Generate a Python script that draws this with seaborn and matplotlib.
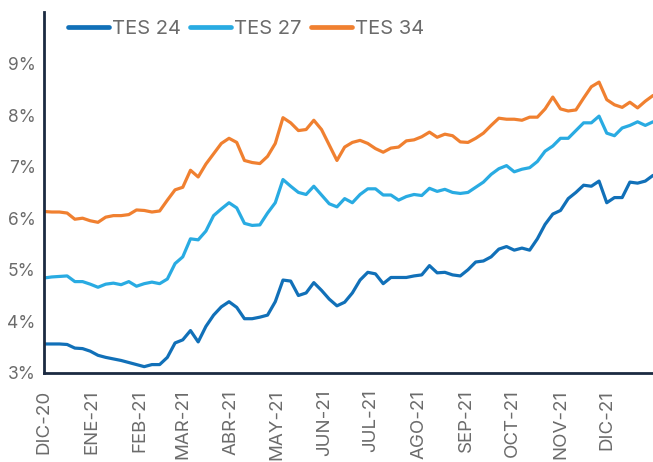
import numpy as np
import pandas as pd
import matplotlib
matplotlib.use("Agg")
import matplotlib.pyplot as plt
import seaborn as sns

# fechas cada 5 dias, dic-20 a dic-21
dates = pd.date_range("2020-12-01", "2021-12-31", freq="5D")

tes24 = [3.56, 3.56, 3.56, 3.55, 3.48, 3.47, 3.42, 3.34, 3.30, 3.27,
         3.24, 3.20, 3.16, 3.12, 3.16, 3.16, 3.30, 3.58, 3.64, 3.82,
         3.60, 3.90, 4.12, 4.28, 4.38, 4.27, 4.05, 4.05, 4.08, 4.12,
         4.38, 4.80, 4.78, 4.50, 4.55, 4.75, 4.60, 4.43, 4.30, 4.37,
         4.55, 4.80, 4.95, 4.92, 4.73, 4.85, 4.85, 4.85, 4.88, 4.90,
         5.08, 4.94, 4.95, 4.90, 4.88, 5.00, 5.15, 5.17, 5.25, 5.40,
         5.45, 5.38, 5.42, 5.38, 5.60, 5.88, 6.08, 6.15, 6.38, 6.50,
         6.64, 6.62, 6.72, 6.30, 6.40, 6.40, 6.70, 6.68, 6.72, 6.83]

tes27 = [4.84, 4.86, 4.87, 4.88, 4.77, 4.77, 4.72, 4.66, 4.72, 4.74,
         4.71, 4.77, 4.68, 4.73, 4.76, 4.73, 4.82, 5.12, 5.25, 5.60,
         5.58, 5.75, 6.05, 6.18, 6.30, 6.20, 5.90, 5.86, 5.87, 6.10,
         6.30, 6.75, 6.62, 6.50, 6.46, 6.62, 6.45, 6.28, 6.22, 6.38,
         6.30, 6.46, 6.57, 6.57, 6.45, 6.45, 6.35, 6.42, 6.46, 6.44,
         6.58, 6.52, 6.56, 6.50, 6.48, 6.50, 6.60, 6.70, 6.85, 6.96,
         7.02, 6.90, 6.95, 6.98, 7.10, 7.30, 7.40, 7.55, 7.55, 7.70,
         7.85, 7.85, 7.98, 7.65, 7.60, 7.75, 7.80, 7.87, 7.80, 7.87]

tes34 = [6.13, 6.12, 6.12, 6.10, 5.98, 6.00, 5.95, 5.92, 6.02, 6.05,
         6.05, 6.07, 6.16, 6.15, 6.12, 6.14, 6.35, 6.55, 6.60, 6.93,
         6.80, 7.05, 7.25, 7.45, 7.55, 7.47, 7.12, 7.08, 7.06, 7.20,
         7.45, 7.95, 7.85, 7.70, 7.72, 7.90, 7.72, 7.42, 7.12, 7.38,
         7.47, 7.51, 7.45, 7.35, 7.28, 7.36, 7.38, 7.50, 7.52, 7.58,
         7.67, 7.57, 7.63, 7.60, 7.48, 7.47, 7.55, 7.65, 7.80, 7.94,
         7.92, 7.92, 7.90, 7.96, 7.96, 8.12, 8.35, 8.12, 8.08, 8.10,
         8.33, 8.55, 8.64, 8.30, 8.20, 8.15, 8.25, 8.14, 8.27, 8.38]

series = ["TES 24", "TES 27", "TES 34"]
colors = ["#1170B8", "#29ABE2", "#F08030"]
month_labels = ["DIC-20", "ENE-21", "FEB-21", "MAR-21", "ABR-21", "MAY-21", "JUN-21",
                "JUL-21", "AGO-21", "SEP-21", "OCT-21", "NOV-21", "DIC-21"]
y_ticks = [3, 4, 5, 6, 7, 8, 9]

df = pd.DataFrame({"fecha": dates, "TES 24": tes24, "TES 27": tes27, "TES 34": tes34})
long = df.melt(id_vars="fecha", var_name="bono", value_name="tasa")

sns.set_style("white")
plt.rcParams["font.family"] = ["Inter", "DejaVu Sans"]

fig = plt.figure(figsize=(6.53, 4.62), dpi=100)
ax = fig.add_axes([0.0674, 0.193, 0.9326, 0.781])
sns.lineplot(data=long, x="fecha", y="tasa", hue="bono", hue_order=series,
             palette=colors, linewidth=2.3, ax=ax)

ax.set_ylim(3, 10.0)
ax.set_xlim(dates[0], dates[-1])
ax.set_yticks(y_ticks)
ax.set_yticklabels([f"{t}%" for t in y_ticks], color="#6b6b6b", fontsize=12.5)
ticks = pd.date_range("2020-12-01", periods=len(month_labels), freq="MS")
ax.set_xticks(ticks)
ax.set_xticklabels(month_labels, rotation=90, color="#6b6b6b", fontsize=13.5, va="top")
ax.tick_params(axis="y", length=0, pad=6)
ax.tick_params(axis="x", length=0, pad=12)
ax.set_xlabel("")
ax.set_ylabel("")

for side in ["top", "right"]:
    ax.spines[side].set_visible(False)
for side in ["left", "bottom"]:
    ax.spines[side].set_color("#1b2a41")
    ax.spines[side].set_linewidth(2)

leg = ax.legend(loc="upper left", bbox_to_anchor=(0.01, 1.027), ncol=3, frameon=False,
                fontsize=14.5, handlelength=2.0, columnspacing=0.5, handletextpad=0.15)
for t in leg.get_texts():
    t.set_color("#6b6b6b")
for h in leg.get_lines():
    h.set_linewidth(3.4)

fig.savefig("out.png", dpi=100)
